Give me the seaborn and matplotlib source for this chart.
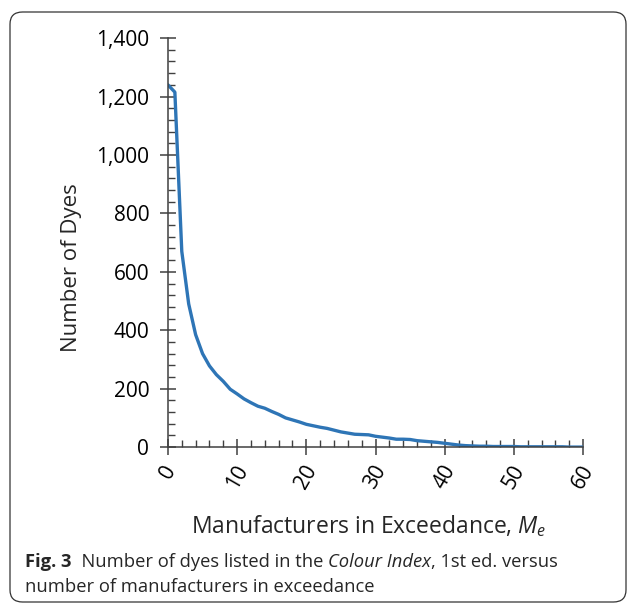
import numpy as np
import pandas as pd
import matplotlib
matplotlib.use("Agg")
import matplotlib.pyplot as plt
import seaborn as sns
from matplotlib.patches import FancyBboxPatch
from matplotlib.ticker import MultipleLocator, FuncFormatter

# manufacturers in exceedance (x) and number of dyes (y)
manufacturers = list(range(0, 61))
dyes = [1240, 1215, 670, 490, 385, 320, 278, 248, 225, 198,
        182, 165, 152, 140, 133, 122, 112, 100, 93, 86,
        78, 73, 68, 64, 58, 52, 48, 44, 43, 42,
        37, 34, 31, 27, 27, 26, 22, 20, 18, 16,
        13, 10, 7, 5, 4, 3, 3, 2, 2, 2,
        2, 1, 1, 1, 1, 1, 1, 1, 0, 0, 0]

x_label = r"Manufacturers in Exceedance, $M_e$"
y_label = "Number of Dyes"
caption_bold = "Fig. 3"
caption_a = "  Number of dyes listed in the "
caption_italic = "Colour Index"
caption_b = ", 1st ed. versus"
caption_line2 = "number of manufacturers in exceedance"

sns.set_style("ticks")
plt.rcParams["font.family"] = ["Open Sans", "DejaVu Sans"]
plt.rcParams["mathtext.fontset"] = "custom"
plt.rcParams["mathtext.it"] = "Open Sans:italic"
plt.rcParams["mathtext.rm"] = "Open Sans"

df = pd.DataFrame({"Me": manufacturers, "dyes": dyes})

fig = plt.figure(figsize=(6.29, 6.05), dpi=100)
ax = fig.add_axes([0.267, 0.261, 0.660, 0.676])

sns.lineplot(data=df, x="Me", y="dyes", ax=ax, color="#2E75B6", linewidth=2.4)

ax.set_xlim(0, 60)
ax.set_ylim(0, 1400)
ax.xaxis.set_major_locator(MultipleLocator(10))
ax.xaxis.set_minor_locator(MultipleLocator(2))
ax.yaxis.set_major_locator(MultipleLocator(200))
ax.yaxis.set_minor_locator(MultipleLocator(40))
ax.yaxis.set_major_formatter(FuncFormatter(lambda v, p: f"{int(v):,}"))

sns.despine(ax=ax)
for s in ("left", "bottom"):
    ax.spines[s].set_color("#404040")
    ax.spines[s].set_linewidth(1.1)

ax.tick_params(which="major", direction="inout", length=11, width=1.1,
               color="#404040", labelsize=15, labelcolor="black")
ax.tick_params(which="minor", direction="in", length=5, width=1.0, color="#404040")
ax.tick_params(axis="x", which="major", pad=5)
ax.tick_params(axis="y", which="major", pad=8)
for lab in ax.get_xticklabels():
    lab.set_rotation(60)
    lab.set_ha("center")
    lab.set_va("top")

ax.set_xlabel(x_label, fontsize=16.5, labelpad=15)
ax.set_ylabel(y_label, fontsize=16, labelpad=10)
ax.xaxis.label.set_x(0.484)
ax.yaxis.label.set_y(0.438)

# rounded frame around the figure
frame = FancyBboxPatch((10 / 629, 3 / 605), 616 / 629, 590 / 605,
                       boxstyle="round,pad=0,rounding_size=0.02",
                       transform=fig.transFigure, fill=False,
                       edgecolor="#333333", linewidth=0.9)
fig.patches.append(frame)

# caption with mixed styles
fig.canvas.draw()
renderer = fig.canvas.get_renderer()
cx, cy = 25 / 629, 1 - 562 / 605
cap_size = 13.2
x = cx
for txt, kw in [(caption_bold, {"fontweight": "bold"}),
                (caption_a, {}),
                (caption_italic, {"fontstyle": "italic"}),
                (caption_b, {})]:
    t = fig.text(x, cy, txt, fontsize=cap_size, va="center", ha="left", **kw)
    bb = t.get_window_extent(renderer)
    x += bb.width / fig.bbox.width
fig.text(cx, 1 - 587 / 605, caption_line2, fontsize=cap_size, va="center", ha="left")

fig.savefig("out.png", dpi=100)
